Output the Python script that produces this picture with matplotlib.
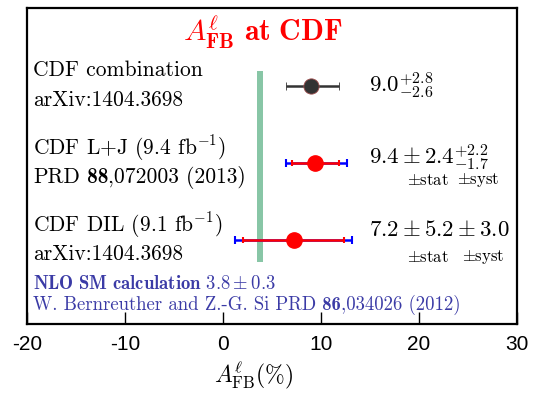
import numpy as np
import matplotlib
matplotlib.use("Agg")
from matplotlib import pyplot as plt
from matplotlib.transforms import Affine2D

plt.rcParams["mathtext.fontset"] = "cm"
plt.rcParams["font.family"] = "cmr10"
plt.rcParams["axes.formatter.use_mathtext"] = True

# Measurements (in %), top to bottom.
rows = [3, 2, 1]
central = [9.0, 9.4, 7.2]
stat_lo = [2.6, 2.4, 5.2]
stat_hi = [2.8, 2.4, 5.2]
syst_lo = [0.0, 1.7, 3.0]
syst_hi = [0.0, 2.2, 3.0]

sm_value = 3.8
sm_error = 0.3

labels_top = ["CDF combination", r"CDF L+J (9.4 fb$^{-1}$)", r"CDF DIL (9.1 fb$^{-1}$)"]
labels_bottom = [
    [("arXiv:1404.3698", "cmr10")],
    [("PRD", "cmr10"), (" 88", "cmb10"), (",072003 (2013)", "cmr10")],
    [("arXiv:1404.3698", "cmr10")],
]
values_text = [r"$9.0^{+2.8}_{-2.6}$", r"$9.4\pm2.4^{+2.2}_{-1.7}$", r"$7.2\pm5.2\pm3.0$"]
ref_text = [("W. Bernreuther and Z.-G. Si PRD", "cmr10"), (" 86", "cmb10"),
            (",034026 (2012)", "cmr10")]

xticks = [-20, -10, 0, 10, 20, 30]

fig = plt.figure(figsize=(5.45, 3.93), dpi=100)
ax = fig.add_axes([0.0495, 0.1756, 0.899, 0.804])
renderer = fig.canvas.get_renderer()


def pieces_text(x, y, pieces, **kw):
    # one line made of pieces in different fonts, placed one after another
    t = ax.text(x, y, pieces[0][0], family=pieces[0][1], va="baseline", ha="left", **kw)
    shift = 0
    for s, fam in pieces[1:]:
        shift += t.get_window_extent(renderer).width
        t = ax.text(x, y, s, family=fam, va="baseline", ha="left",
                    transform=ax.transData + Affine2D().translate(shift, 0), **kw)


# SM band
ax.fill_betweenx([0.72, 3.19], sm_value - sm_error, sm_value + sm_error,
                 color="#88c6a6", lw=0, zorder=1)

# combination: single asymmetric error
ax.errorbar(central[0], rows[0], xerr=[[stat_lo[0]], [stat_hi[0]]], fmt="o",
            color="#333333", ms=11, mfc="#333333", mec="#a05050", mew=0.6,
            elinewidth=1.8, capsize=3, capthick=1.5, zorder=4)

# individual measurements: total (blue) and stat (red)
for i in [1, 2]:
    tot_lo = np.hypot(stat_lo[i], syst_lo[i])
    tot_hi = np.hypot(stat_hi[i], syst_hi[i])
    ax.errorbar(central[i], rows[i], xerr=[[tot_lo], [tot_hi]], fmt="none",
                ecolor="blue", elinewidth=1.8, capsize=3, capthick=1.5, zorder=2)
    ax.errorbar(central[i], rows[i], xerr=[[stat_lo[i]], [stat_hi[i]]], fmt="o",
                color="red", ms=11, elinewidth=1.8, capsize=2.5, capthick=1.5, zorder=3)

ax.set_xlim(-20, 30)
ax.set_ylim(-0.09, 4.013)

# left labels
for r, t1, t2 in zip(rows, labels_top, labels_bottom):
    ax.text(-19.4, r + 0.2, t1, fontsize=15.5, va="center", ha="left")
    pieces_text(-19.4, r - 0.26, t2, fontsize=15.5)

# right values
ax.text(14.9, 3.0, values_text[0], fontsize=16.5, va="center", ha="left")
ax.text(14.9, 2.07, values_text[1], fontsize=16.5, va="center", ha="left")
ax.text(14.9, 1.13, values_text[2], fontsize=16.5, va="center", ha="left")
for r in [2, 1]:
    ax.text(18.8, r - 0.22, r"$\pm$stat", fontsize=12, va="center", ha="left")
    ax.text(24.4 if r == 1 else 23.9, r - 0.22, r"$\pm$syst", fontsize=12,
            va="center", ha="left")

# SM reference text
blue = "#3b3ba6"
ax.text(-19.4, 0.43, r"$\mathbf{NLO\ SM\ calculation}\ 3.8\pm0.3$",
        fontsize=13.5, color=blue, va="center", ha="left")
pieces_text(-19.4, 0.09, ref_text, fontsize=13.5, color=blue)

# title
ax.text(4.1, 3.7, r"$A^{\ell}_{\mathbf{FB}}\ \mathbf{at\ CDF}$", fontsize=21.5,
        color="red", va="center", ha="center")

ax.set_xticks(xticks)
ax.set_xticklabels([str(v) for v in xticks], fontfamily="Liberation Sans", fontsize=15)
ax.set_yticks([])
ax.tick_params(axis="x", direction="in", length=9, width=1, pad=8)
for s in ax.spines.values():
    s.set_linewidth(1.6)

fig.text(0.465, 0.045, r"$A^{\ell}_{\rm FB}(\%)$", fontsize=17, ha="center", va="center")

fig.savefig("out.png", dpi=100)
